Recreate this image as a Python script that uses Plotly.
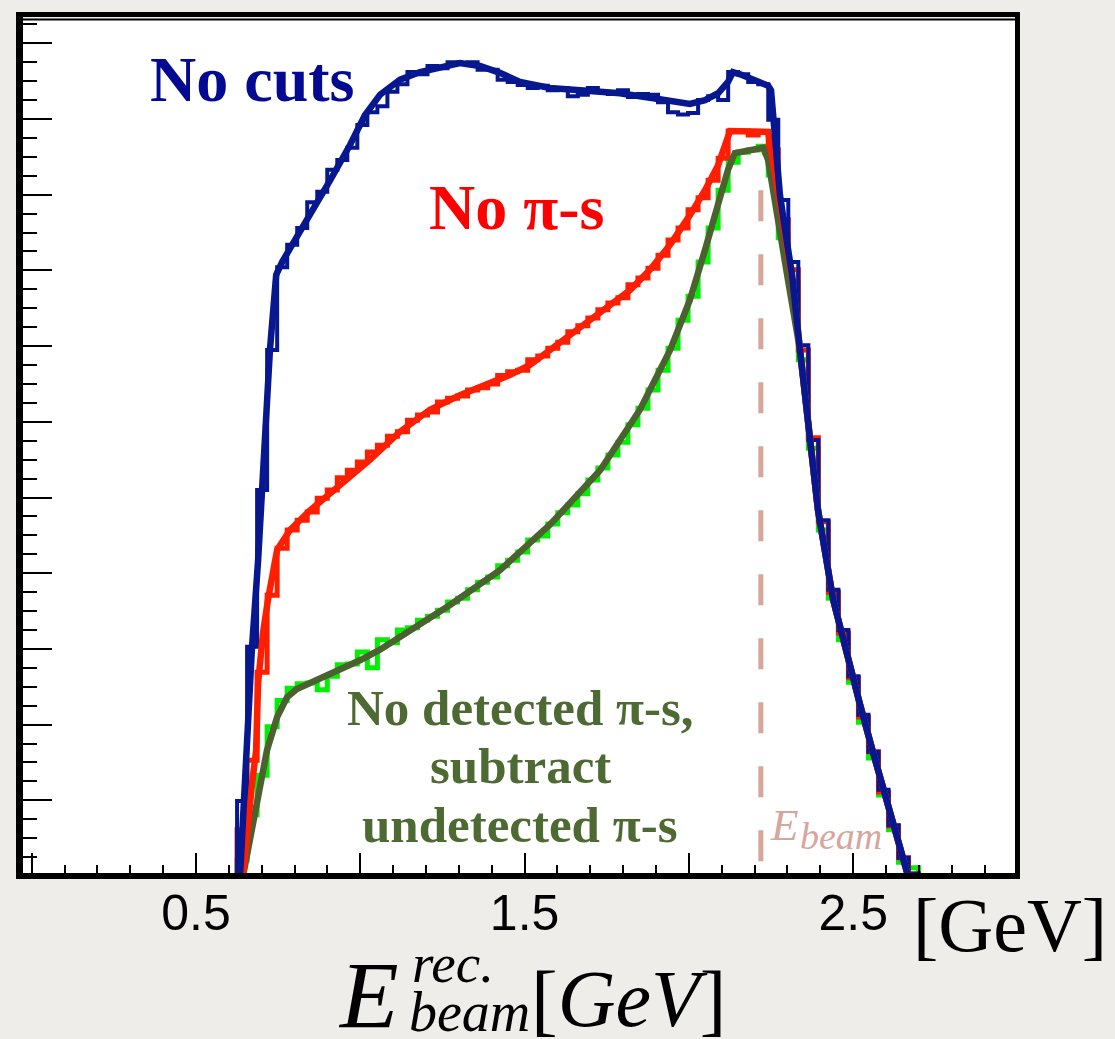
import plotly.graph_objects as go

# ---------------- data ----------------
BIN_LO = 0.625      # GeV, low edge of first bin
BIN_W = 0.0305      # GeV, bin width

BLUE_HIST = [0.99, 3.03, 5.10, 6.95, 8.04, 8.34, 8.56, 8.90, 9.04, 9.33,
             9.46, 9.62, 9.92, 10.09, 10.17, 10.36, 10.46, 10.62, 10.59, 10.70,
             10.67, 10.75, 10.73, 10.75, 10.65, 10.65, 10.52, 10.49, 10.45, 10.41,
             10.44, 10.38, 10.41, 10.30, 10.32, 10.41, 10.36, 10.33, 10.38, 10.29,
             10.33, 10.32, 10.22, 10.09, 10.06, 10.08, 10.25, 10.30, 10.25, 10.62,
             10.59, 10.49, 10.46, 9.99, 8.93, 8.11, 7.01, 5.76, 4.70, 3.78,
             3.25, 2.64, 2.13, 1.64, 1.14, 0.67, 0.24, 0.03]
RED_HIST = [0.61, 1.53, 2.69, 3.71, 4.33, 4.57, 4.70, 4.81, 4.99, 5.10,
            5.26, 5.36, 5.47, 5.60, 5.69, 5.81, 5.87, 6.02, 6.09, 6.13,
            6.26, 6.31, 6.34, 6.42, 6.45, 6.50, 6.61, 6.66, 6.68, 6.82,
            6.87, 6.97, 7.05, 7.19, 7.27, 7.37, 7.48, 7.57, 7.64, 7.81,
            7.90, 8.03, 8.20, 8.40, 8.56, 8.80, 8.96, 9.19, 9.48, 9.84,
            9.84, 9.79, 9.83, 9.59, 8.67, 8.01, 6.95, 5.79, 4.68, 3.75,
            3.21, 2.62, 2.10, 1.64, 1.11, 0.66, 0.24, 0.03]
GREEN_HIST = [0.21, 0.81, 1.33, 1.97, 2.32, 2.48, 2.54, 2.55, 2.46, 2.64,
              2.79, 2.80, 2.96, 2.75, 3.12, 3.08, 3.25, 3.28, 3.38, 3.43,
              3.51, 3.62, 3.67, 3.78, 3.88, 3.95, 4.10, 4.17, 4.28, 4.44,
              4.49, 4.65, 4.80, 4.90, 5.05, 5.23, 5.39, 5.56, 5.73, 5.96,
              6.18, 6.42, 6.68, 6.97, 7.34, 7.66, 8.11, 8.56, 9.06, 9.43,
              9.56, 9.59, 9.64, 9.26, 8.43, 7.85, 6.82, 5.65, 4.57, 3.67,
              3.12, 2.56, 2.03, 1.56, 1.07, 0.61, 0.18, 0.11]

BLUE_FIT_X = [0.634, 0.652, 0.670, 0.689, 0.707, 0.725, 0.744, 0.762, 0.801, 0.847,
              0.908, 0.969, 1.014, 1.060, 1.121, 1.182, 1.243, 1.303, 1.364, 1.425,
              1.486, 1.577, 1.669, 1.790, 1.882, 1.943, 2.003, 2.049, 2.089, 2.119,
              2.134, 2.156, 2.201, 2.241, 2.250, 2.262, 2.277, 2.295, 2.314, 2.338,
              2.366, 2.393, 2.439, 2.481, 2.521, 2.560, 2.603, 2.642, 2.667]
BLUE_FIT_Y = [0.00, 1.53, 2.99, 4.17, 5.63, 6.95, 7.94, 8.11, 8.40, 8.73,
              9.19, 9.66, 10.05, 10.32, 10.52, 10.62, 10.69, 10.74, 10.70, 10.61,
              10.49, 10.41, 10.38, 10.34, 10.28, 10.23, 10.20, 10.25, 10.34, 10.49,
              10.62, 10.59, 10.52, 10.44, 10.38, 9.72, 9.00, 8.47, 7.94, 6.95,
              5.89, 4.83, 3.65, 2.92, 2.26, 1.64, 1.00, 0.41, 0.00]

RED_FIT_X = [0.643, 0.658, 0.670, 0.683, 0.689, 0.704, 0.719, 0.747, 0.786, 0.847,
             0.938, 1.030, 1.121, 1.212, 1.303, 1.395, 1.456, 1.516, 1.577, 1.638,
             1.699, 1.760, 1.821, 1.882, 1.943, 2.003, 2.049, 2.089, 2.110, 2.125,
             2.241, 2.253, 2.268, 2.283, 2.299, 2.317, 2.338, 2.366, 2.393, 2.439,
             2.481, 2.521, 2.560, 2.603, 2.642, 2.667]
RED_FIT_Y = [0.00, 0.74, 1.20, 1.66, 2.55, 3.21, 3.65, 4.31, 4.57, 4.83,
             5.17, 5.50, 5.87, 6.16, 6.35, 6.51, 6.62, 6.75, 6.95, 7.15,
             7.34, 7.54, 7.74, 8.01, 8.34, 8.73, 9.06, 9.39, 9.66, 9.84,
             9.83, 9.50, 9.06, 8.63, 8.20, 7.81, 6.95, 5.89, 4.83, 3.65,
             2.92, 2.26, 1.64, 1.00, 0.41, 0.00]

GREEN_FIT_X = [0.643, 0.664, 0.683, 0.701, 0.716, 0.747, 0.777, 0.807, 0.868, 0.938,
               0.999, 1.060, 1.121, 1.273, 1.425, 1.577, 1.730, 1.851, 1.943, 2.003,
               2.049, 2.089, 2.119, 2.140, 2.226, 2.241, 2.256, 2.271, 2.283, 2.299,
               2.338, 2.366, 2.393, 2.439, 2.481, 2.521, 2.560, 2.603, 2.642, 2.667]
GREEN_FIT_Y = [0.00, 0.48, 0.94, 1.33, 1.66, 2.10, 2.36, 2.47, 2.59, 2.72,
               2.85, 2.99, 3.16, 3.58, 4.04, 4.64, 5.36, 6.16, 6.95, 7.61,
               8.27, 8.86, 9.33, 9.55, 9.62, 9.46, 9.06, 8.63, 8.27, 7.94,
               6.95, 5.89, 4.83, 3.65, 2.92, 2.26, 1.64, 1.00, 0.41, 0.00]

E_BEAM = 2.219
E_BEAM_LINE_Y = [0.13, 9.06]

X_TICK_VALS = [0.0, 0.5, 1.0, 1.5, 2.0, 2.5, 3.0]
X_TICK_TEXT = ["", "0.5", "", "1.5", "", "2.5", ""]

LABEL_NO_CUTS = "No cuts"
LABEL_NO_PI = "No π-s"
LABEL_GREEN = ["No detected π-s,", "subtract", "undetected π-s"]

# ---------------- layout geometry ----------------
W, H = 1115, 1039
L, R, T, B = 20, 98, 20, 163
PW, PH = W - L - R, H - T - B


def pxx(px):
    return (px - L) / PW


def pxy(py):
    return (H - B - py) / PH


def step_xy(values):
    edges = [BIN_LO + i * BIN_W for i in range(len(values) + 1)]
    xs = [edges[0]] + edges
    ys = [0] + list(values) + [0]
    return xs, ys


C_BLUE = "#06178F"
C_RED = "#FF1E00"
C_LIME = "#00F000"
C_OLIVE = "#4B6230"
C_OLIVE_TXT = "#4D6A33"
C_DASH = "#D6A69C"

fig = go.Figure()

for vals, col, w in [(GREEN_HIST, C_LIME, 5), (RED_HIST, C_RED, 5), (BLUE_HIST, C_BLUE, 4)]:
    xs, ys = step_xy(vals)
    fig.add_trace(go.Scatter(x=xs, y=ys, mode="lines", line=dict(color=col, width=w, shape="hv"),
                             hoverinfo="skip", showlegend=False))

for xs, ys, col in [(GREEN_FIT_X, GREEN_FIT_Y, C_OLIVE), (RED_FIT_X, RED_FIT_Y, C_RED),
                    (BLUE_FIT_X, BLUE_FIT_Y, C_BLUE)]:
    fig.add_trace(go.Scatter(x=xs, y=ys, mode="lines", line=dict(color=col, width=6.5),
                             hoverinfo="skip", showlegend=False))

shapes = [
    dict(type="line", xref="x", yref="y", x0=E_BEAM, x1=E_BEAM, y0=E_BEAM_LINE_Y[1], y1=E_BEAM_LINE_Y[0],
         line=dict(color=C_DASH, width=5, dash="31px,33px"), layer="below"),
    # frame
    dict(type="line", xref="paper", yref="paper", x0=pxx(19.5), x1=pxx(19.5), y0=pxy(12), y1=pxy(879),
         line=dict(color="black", width=7)),
    dict(type="line", xref="paper", yref="paper", x0=pxx(16), x1=pxx(1020), y0=pxy(876), y1=pxy(876),
         line=dict(color="black", width=6)),
    dict(type="line", xref="paper", yref="paper", x0=pxx(1017.5), x1=pxx(1017.5), y0=pxy(12), y1=pxy(879),
         line=dict(color="black", width=5)),
    dict(type="line", xref="paper", yref="paper", x0=pxx(16), x1=pxx(1020), y0=pxy(14.5), y1=pxy(14.5),
         line=dict(color="black", width=5)),
    dict(type="line", xref="paper", yref="paper", x0=pxx(16), x1=pxx(1017), y0=pxy(19.5), y1=pxy(19.5),
         line=dict(color="black", width=2)),
]

SERIF = "Liberation Serif, Times New Roman, serif"
ann = []


def add_text(text, px, py, size, color, bold=False, italic=False, family=SERIF):
    t = text
    if bold:
        t = "<b>" + t + "</b>"
    if italic:
        t = "<i>" + t + "</i>"
    ann.append(dict(text=t, xref="paper", yref="paper", x=pxx(px), y=pxy(py),
                    xanchor="center", yanchor="middle", showarrow=False,
                    font=dict(family=family, size=size, color=color)))


add_text(LABEL_NO_CUTS, 252, 79, 64, "#030A91", bold=True)
add_text(LABEL_NO_PI, 517, 207, 64, "#FF0000", bold=True)
for txt, py in zip(LABEL_GREEN, [708, 766, 825]):
    add_text(txt, 520, py, 51, C_OLIVE_TXT, bold=True)

# E_beam label by the dashed line
add_text("E", 784, 825, 45, C_DASH, italic=True)
add_text("beam", 841, 836, 38, C_DASH, italic=True)

# unit at right
add_text("[GeV]", 1010, 925, 76, "black")

# x-axis title  E^{rec.}_{beam} [GeV]
add_text("E", 368, 996, 96, "black", italic=True)
add_text("rec.", 453, 964, 55, "black", italic=True)
add_text("beam", 469, 1012, 56, "black", italic=True)
add_text("[<i>GeV</i>]", 628, 999, 80, "black")

fig.update_layout(
    width=W, height=H,
    margin=dict(l=L, r=R, t=T, b=B, pad=0),
    paper_bgcolor="#EEEDEA",
    plot_bgcolor="white",
    showlegend=False,
    shapes=shapes,
    annotations=ann,
    xaxis=dict(range=[-0.0356, 2.9985], showgrid=False, zeroline=False, showline=False,
               tickmode="array", tickvals=X_TICK_VALS, ticktext=X_TICK_TEXT,
               ticks="inside", ticklen=23, tickwidth=2, tickcolor="black",
               ticklabelstandoff=3,
               tickfont=dict(family="Liberation Sans, Arial, sans-serif", size=50, color="black"),
               minor=dict(tickmode="linear", tick0=0, dtick=0.1, ticks="inside", ticklen=11,
                          tickwidth=2, tickcolor="black", showgrid=False),
               fixedrange=True),
    yaxis=dict(range=[0, PH / 75.7], showgrid=False, zeroline=False, showline=False,
               tickmode="linear", tick0=0, dtick=1, ticks="inside", ticklen=32, tickwidth=2,
               tickcolor="black", showticklabels=False,
               minor=dict(tickmode="linear", tick0=0, dtick=0.25, ticks="inside", ticklen=17,
                          tickwidth=2, tickcolor="black", showgrid=False),
               fixedrange=True),
)

fig.write_html("out.html")
